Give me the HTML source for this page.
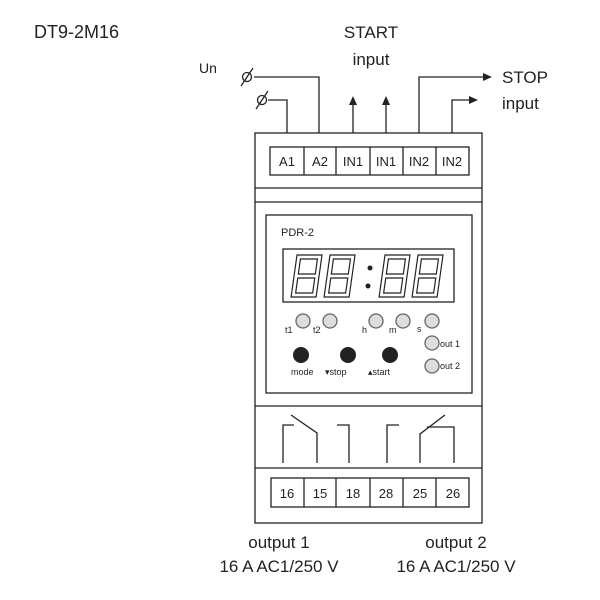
<!DOCTYPE html>
<html><head><style>body{margin:0;background:#fff}svg{display:block}</style></head><body>
<svg width="600" height="600" viewBox="0 0 600 600" font-family="Liberation Sans, sans-serif">
<rect width="600" height="600" fill="#fff"/>
<text x="34" y="38" font-size="18" fill="#222">DT9-2M16</text>
<text x="199" y="73" font-size="14" fill="#222">Un</text>
<text x="371" y="38" font-size="17" text-anchor="middle" fill="#222">START</text>
<text x="371" y="65" font-size="17" text-anchor="middle" fill="#222">input</text>
<text x="502" y="83" font-size="17" fill="#222">STOP</text>
<text x="502" y="109" font-size="17" fill="#222">input</text>
<g stroke="#222" stroke-width="1.3" fill="none">
<polyline points="287,133 287,100 268,100"/>
<polyline points="319,133 319,77 254,77"/>
<line x1="353" y1="133" x2="353" y2="103"/>
<line x1="386" y1="133" x2="386" y2="103"/>
<polyline points="419,133 419,77 484,77"/>
<polyline points="452,133 452,100 470,100"/>
<circle cx="247" cy="77" r="4.5"/><line x1="241" y1="86" x2="253" y2="68"/>
<circle cx="262" cy="100" r="4.5"/><line x1="256" y1="109" x2="268" y2="91"/>
<rect x="255" y="133" width="227" height="390"/>
<line x1="255" y1="188" x2="482" y2="188"/>
<line x1="255" y1="202" x2="482" y2="202"/>
<line x1="255" y1="406" x2="482" y2="406"/>
<line x1="255" y1="468" x2="482" y2="468"/>
<rect x="266" y="215" width="206" height="178"/>
<rect x="283" y="249" width="171" height="53"/>
<rect x="270" y="147" width="199" height="28"/>
<line x1="304" y1="147" x2="304" y2="175"/><line x1="336" y1="147" x2="336" y2="175"/><line x1="370" y1="147" x2="370" y2="175"/><line x1="403" y1="147" x2="403" y2="175"/><line x1="436" y1="147" x2="436" y2="175"/>
<rect x="271" y="478" width="198" height="29"/>
<line x1="304" y1="478" x2="304" y2="507"/><line x1="336" y1="478" x2="336" y2="507"/><line x1="370" y1="478" x2="370" y2="507"/><line x1="403" y1="478" x2="403" y2="507"/><line x1="436" y1="478" x2="436" y2="507"/>
<polyline points="283,463 283,425 294,425"/>
<polyline points="291,415 317,433 317,463"/>
<polyline points="337,425 349,425 349,463"/>
<polyline points="387,463 387,425 399,425"/>
<polyline points="420,463 420,434 445,415"/>
<polyline points="427,427 454,427 454,463"/>
<g stroke="#666" fill="#ddd"><circle cx="303" cy="321" r="7"/><circle cx="330" cy="321" r="7"/><circle cx="376" cy="321" r="7"/><circle cx="403" cy="321" r="7"/><circle cx="432" cy="321" r="7"/><circle cx="432" cy="343" r="7"/><circle cx="432" cy="366" r="7"/></g>
<g stroke-width="1.2">
<g transform="translate(297,255) skewX(-8)"><path d="M0,0h25v42h-25z M4,4h17v15h-17z M4,23h17v15h-17z"/></g>
<g transform="translate(330,255) skewX(-8)"><path d="M0,0h25v42h-25z M4,4h17v15h-17z M4,23h17v15h-17z"/></g>
<g transform="translate(385,255) skewX(-8)"><path d="M0,0h25v42h-25z M4,4h17v15h-17z M4,23h17v15h-17z"/></g>
<g transform="translate(418,255) skewX(-8)"><path d="M0,0h25v42h-25z M4,4h17v15h-17z M4,23h17v15h-17z"/></g>
</g>
</g>
<g fill="#222">
<circle cx="370" cy="268" r="2.5"/><circle cx="368" cy="286" r="2.5"/>
<polygon points="353,96 349,105 357,105"/><polygon points="386,96 382,105 390,105"/>
<polygon points="492,77 483,73 483,81"/><polygon points="478,100 469,96 469,104"/>
<circle cx="301" cy="355" r="8"/><circle cx="348" cy="355" r="8"/><circle cx="390" cy="355" r="8"/>
</g>
<g font-size="13" fill="#222" text-anchor="middle">
<text x="287" y="166">A1</text><text x="320" y="166">A2</text><text x="353" y="166">IN1</text><text x="386" y="166">IN1</text><text x="419" y="166">IN2</text><text x="452" y="166">IN2</text>
<text x="287" y="498">16</text><text x="320" y="498">15</text><text x="353" y="498">18</text><text x="386" y="498">28</text><text x="420" y="498">25</text><text x="453" y="498">26</text>
</g>
<text x="281" y="236" font-size="11" fill="#222">PDR-2</text>
<g font-size="9" fill="#222">
<text x="285" y="333">t1</text><text x="313" y="333">t2</text><text x="362" y="333">h</text><text x="389" y="333">m</text><text x="417" y="332">s</text>
<text x="440" y="347">out 1</text><text x="440" y="369">out 2</text>
<text x="291" y="375">mode</text><text x="325" y="375">▾stop</text><text x="368" y="375">▴start</text>
</g>
<g font-size="17" fill="#222" text-anchor="middle">
<text x="279" y="548">output 1</text><text x="279" y="572">16 A AC1/250 V</text>
<text x="456" y="548">output 2</text><text x="456" y="572">16 A AC1/250 V</text>
</g>
</svg>
</body></html>
